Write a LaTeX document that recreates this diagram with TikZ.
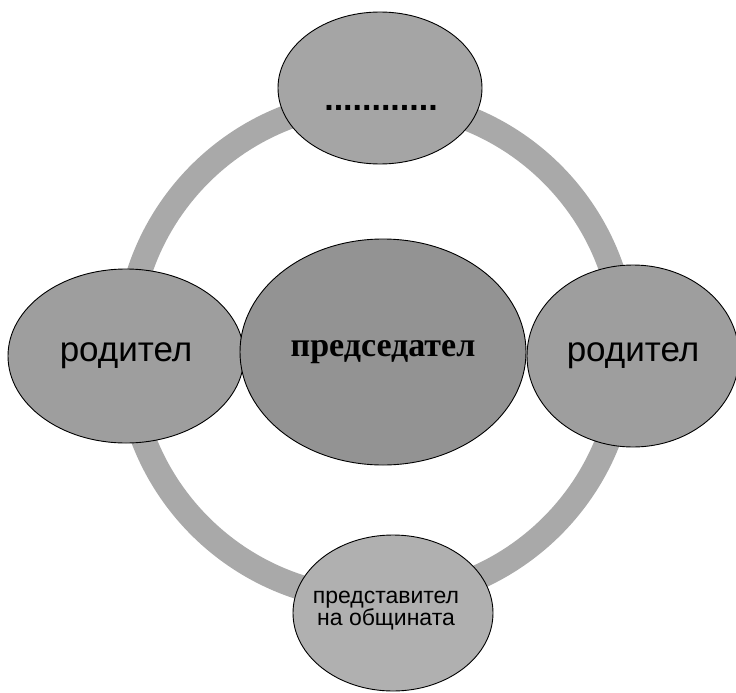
\documentclass[tikz,border=0pt]{standalone}
\usepackage{fontspec}
\setmainfont{Liberation Sans}
\newfontfamily\serifcyr{Liberation Serif}
\usetikzlibrary{shapes.geometric}
\definecolor{ringgray}{HTML}{A9A9A9}
\definecolor{ovalgray}{HTML}{9E9E9E}
\definecolor{centergray}{HTML}{939393}
\definecolor{topgray}{HTML}{A5A5A5}
\definecolor{bottomgray}{HTML}{B0B0B0}
\tikzset{
  oval/.style={ellipse, draw=black, line width=0.9pt, inner sep=0pt, text=black},
  ringband/.style={draw=ringgray, line width=25pt},
}
\begin{document}
\begin{tikzpicture}[x=1pt,y=-1pt]
\useasboundingbox (0,0) rectangle (736,693);
\coordinate (ringc) at (376,350);
\draw[ringband] (ringc) circle[radius=249];
\node[oval, fill=topgray, minimum width=204pt, minimum height=152pt] (top) at (380,88) {};
\node[anchor=base, font=\fontsize{34}{34}\selectfont\bfseries] (dots) at (381,110) {............};
\node[oval, fill=bottomgray, minimum width=200pt, minimum height=156pt] (bottom) at (393,613) {};
\node[anchor=base, align=center, font=\fontsize{23}{22}\selectfont] (bottomtext) at (386,625)
     {представител\\на общината};
\node[oval, fill=ovalgray, minimum width=236pt, minimum height=174pt,
      font=\fontsize{35}{35}\selectfont] (left) at (126,356) {родител};
\node[oval, fill=ovalgray, minimum width=212pt, minimum height=182pt,
      font=\fontsize{35}{35}\selectfont] (right) at (633,356) {родител};
\node[oval, fill=centergray, minimum width=286pt, minimum height=226pt,
      font=\fontsize{34}{34}\selectfont\serifcyr\bfseries] (center) at (383,352) {председател};
\end{tikzpicture}
\end{document}
